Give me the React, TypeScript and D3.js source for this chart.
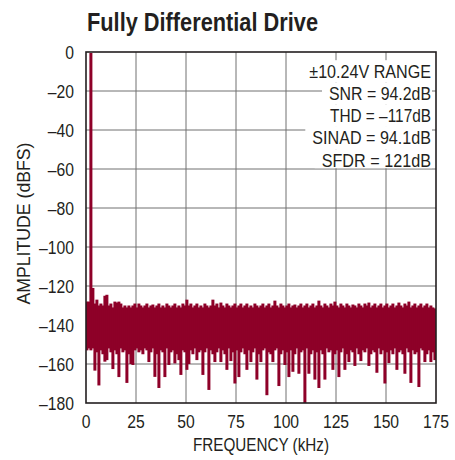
import React from "react";
import * as d3 from "d3";

// ---- data ----
const xTicks = [0, 25, 50, 75, 100, 125, 150, 175];
const yTicks = [0, -20, -40, -60, -80, -100, -120, -140, -160, -180];

// upper envelope of each 1 kHz slice (dBFS), index = kHz
const peakDb = [
  -128, -128, -0.5, -121, -129, -127, -130, -129, -130, -125, -124.5, -130, -129, -131, -128, -128.5, -128, -129, -131, -130, -131, -130, -131, -130, -129,
  -131, -129, -130, -131, -130, -129, -131, -130, -129.5, -131, -130, -129, -131, -130, -131, -129, -130, -131, -130, -129, -131, -130, -131, -129, -130,
  -127, -130, -129, -131, -130, -129, -131, -130, -131, -129, -130, -131, -130, -127, -130, -129, -131, -128.5, -130, -131, -129, -130, -131, -130, -129,
  -131, -130, -129, -131, -130, -129, -131, -130, -131, -129, -130, -131, -130, -129, -131, -130, -129, -131, -130, -127.5, -130, -131, -129, -130, -131,
  -130, -129, -131, -130, -129.5, -131, -130, -129, -131, -130, -129, -131, -130, -129, -131, -130, -127.5, -130, -131, -129, -130, -131, -129, -130, -128,
  -130, -131, -129, -130, -131, -129, -130, -131, -129.5, -130, -131, -129, -130, -131, -129, -130, -128.5, -131, -130, -129, -131, -130, -129, -131, -130,
  -129, -131, -130, -129, -131, -130, -128.5, -130, -131, -129, -130, -128, -131, -130, -129, -131, -130, -129, -131, -130, -129, -131, -130, -131, -131.5, -132,
];

// lower envelope of each 1 kHz slice (dBFS), index = kHz
const troughDb = [
  -153, -152, -153, -152, -163.4, -154, -171, -153, -155, -158.8, -158, -152, -154, -162.6, -153, -155, -166.7, -152, -154, -153, -169.7, -155, -160, -160.5, -153,
  -152, -154, -153, -155, -152, -153, -159, -154, -152, -166.6, -155, -172.3, -153, -154, -166.7, -152, -160.5, -154, -153, -159.7, -155, -158, -165.6, -153, -154,
  -163, -160, -153, -155, -152, -158, -154, -153, -165.6, -154, -152, -173.3, -153, -155, -159, -154, -152, -159, -153, -155, -163, -152, -158.5, -154, -170,
  -153, -166.7, -154, -152, -155, -163, -153, -159, -154, -152, -168, -155, -159, -153, -152, -176, -154, -155, -159, -153, -152, -171.3, -155, -153, -160.5,
  -154, -166.7, -153, -164, -155, -152, -165, -154, -153, -180, -152, -165, -155, -153, -168, -154, -172.3, -153, -155, -168, -152, -154, -153, -163, -155,
  -153, -166.7, -154, -152, -163, -155, -159, -153, -154, -161, -152, -155, -158.5, -153, -154, -152, -161, -155, -153, -154, -164.5, -152, -155, -153, -170,
  -154, -159.5, -153, -155, -152, -163, -154, -153, -155, -165, -152, -154, -169.7, -153, -155, -154, -171.8, -152, -153, -159, -155, -153, -159, -154, -158, -153,
];

const infoLines = ["±10.24V RANGE", "SNR = 94.2dB", "THD = –117dB", "SINAD = 94.1dB", "SFDR = 121dB"];
const titleText = "Fully Differential Drive";
const xLabel = "FREQUENCY (kHz)";
const yLabel = "AMPLITUDE (dBFS)";

// ---- layout ----
const W = 455;
const H = 460;
const plot = { left: 86, top: 52, right: 436, bottom: 403 };
const infoWidths = [121.7, 102, 101, 118.7, 109.3];
const FONT = "'Liberation Sans', Arimo, Arial, sans-serif";
const RED = "#8e0028";
const INK = "#231f20";
const SX = 0.85; // horizontal condense factor for labels

export default function App() {
  const x = d3.scaleLinear().domain([0, 175]).range([plot.left, plot.right]);
  const y = d3.scaleLinear().domain([0, -180]).range([plot.top, plot.bottom]);

  const infoRight = 431;
  const infoBase0 = 77.7;
  const infoStep = 22.25;

  return (
    <svg
      width={W}
      height={H}
      style={{ position: "absolute", left: 0, top: 0, background: "#fff" }}
      fontFamily={FONT}
    >
      <rect x={0} y={0} width={W} height={H} fill="#fff" />
      <defs>
        <clipPath id="plotClip">
          <rect x={plot.left} y={plot.top} width={plot.right - plot.left} height={plot.bottom - plot.top} />
        </clipPath>
      </defs>
      {/* title */}
      <text
        x={87}
        y={31}
        fontSize={25}
        fontWeight="bold"
        fill={INK}
        textLength={231}
        lengthAdjust="spacingAndGlyphs"
      >
        {titleText}
      </text>

      {/* grid */}
      {yTicks.slice(1, -1).map((t) => (
        <line key={"gy" + t} x1={plot.left} x2={plot.right} y1={y(t)} y2={y(t)} stroke="#707070" strokeWidth={1} />
      ))}
      {xTicks.slice(1, -1).map((t) => (
        <line key={"gx" + t} x1={x(t)} x2={x(t)} y1={plot.top} y2={plot.bottom} stroke="#707070" strokeWidth={1} />
      ))}

      {/* spectrum: one bar per 1 kHz slice, from lower to upper envelope */}
      <g clipPath="url(#plotClip)">
        {peakDb.map((p, k) => {
          const t = troughDb[k];
          const x0 = x(k) - 0.6;
          const x1 = x(k + 1) + 0.4;
          return (
            <rect
              key={"b" + k}
              x={x0}
              width={x1 - x0}
              y={y(p)}
              height={y(t) - y(p)}
              fill={RED}
            />
          );
        })}
      </g>

      {/* info box */}
      {infoLines.map((s, i) => {
        const base = infoBase0 + i * infoStep;
        const w = infoWidths[i];
        const isLast = i === infoLines.length - 1;
        return (
          <g key={s}>
            <rect
              x={infoRight - w - 7}
              y={base - 17.5}
              width={w + 8}
              height={isLast ? 19 : infoStep}
              fill="#fff"
            />
            <text
              x={infoRight}
              y={base}
              textAnchor="end"
              fontSize={19}
              fill={INK}
              textLength={w}
              lengthAdjust="spacingAndGlyphs"
            >
              {s}
            </text>
          </g>
        );
      })}

      {/* frame */}
      <rect
        x={plot.left}
        y={plot.top}
        width={plot.right - plot.left}
        height={plot.bottom - plot.top}
        fill="none"
        stroke={INK}
        strokeWidth={1.6}
      />

      {/* y tick labels */}
      {yTicks.map((t) => (
        <text
          key={"ly" + t}
          transform={`translate(74, ${y(t) + 6.7}) scale(${SX}, 1)`}
          textAnchor="end"
          fontSize={18.5}
          fill={INK}
        >
          {t === 0 ? "0" : "–" + Math.abs(t)}
        </text>
      ))}
      {/* x tick labels */}
      {xTicks.map((t) => (
        <text
          key={"lx" + t}
          transform={`translate(${x(t)}, 428) scale(${SX}, 1)`}
          textAnchor="middle"
          fontSize={18.5}
          fill={INK}
        >
          {String(t)}
        </text>
      ))}

      {/* axis titles */}
      <text
        x={(plot.left + plot.right) / 2}
        y={451}
        textAnchor="middle"
        fontSize={19}
        fill={INK}
        textLength={136}
        lengthAdjust="spacingAndGlyphs"
      >
        {xLabel}
      </text>
      <text
        transform={`translate(30, ${(plot.top + plot.bottom) / 2 - 4}) rotate(-90)`}
        textAnchor="middle"
        fontSize={19}
        fill={INK}
        textLength={162}
        lengthAdjust="spacingAndGlyphs"
      >
        {yLabel}
      </text>
    </svg>
  );
}
